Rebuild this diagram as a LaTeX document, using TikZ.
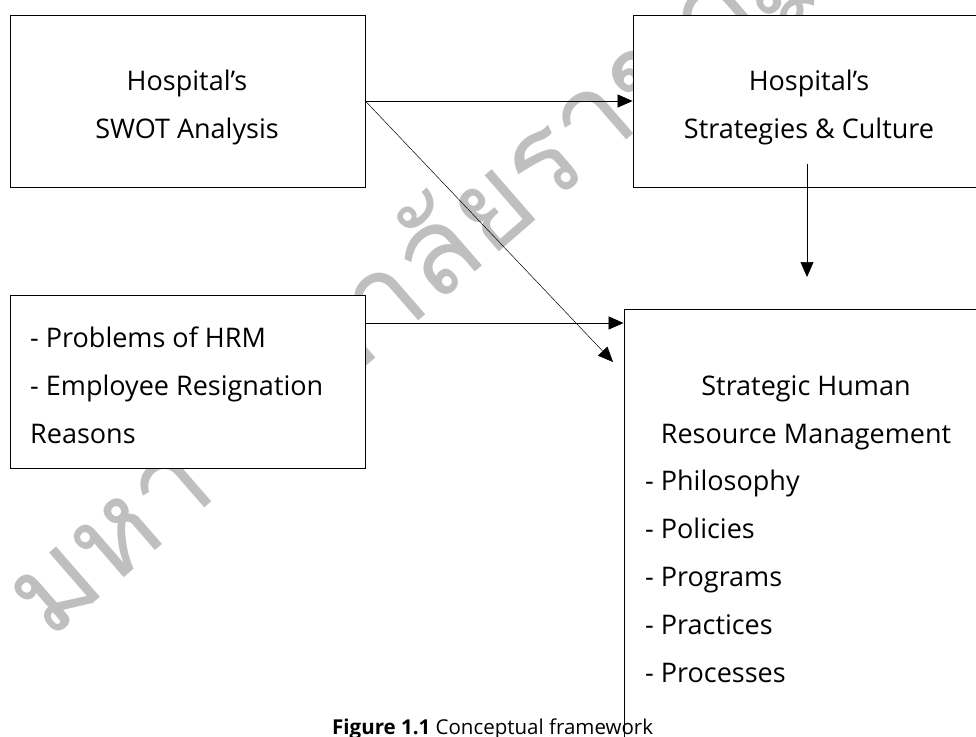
\documentclass[tikz,border=0pt]{standalone}
\usepackage{fontspec}
\setmainfont{Open Sans}
\newfontfamily\thaifont[Script=Thai]{Loma}
\usetikzlibrary{arrows.meta}

\begin{document}
\begin{tikzpicture}[x=1pt,y=-1pt,
		box/.style={draw,fill=white,line width=.8pt,minimum width=#1},
		txt/.style={inner sep=0pt,font=\fontsize{27}{48}\selectfont},
		arr/.style={line width=.7pt,-{Triangle[length=15pt,width=13pt]}}]
	\useasboundingbox (0,0) rectangle (976,736);
	\clip (0,0) rectangle (976,736);
	% watermark
	\node[rotate=41,anchor=mid west,text=black!25,inner sep=0pt,font=\thaifont\fontsize{120}{120}\selectfont] (wm) at (48,640) {มหาวิทยาลัยราชภัฏ};
	% boxes
	\node[box=355pt,minimum height=172pt] (swot) at (187.5,101) {};
	\node[box=352pt,minimum height=172pt] (strat) at (809,101) {};
	\node[box=355pt,minimum height=173pt] (prob) at (187.5,381.5) {};
	\node[box=366pt,minimum height=451pt] (shrm) at (807,534.5) {};
	% texts (base = last line)
	\node[txt,align=center,anchor=base] (swottxt) at (187,138) {Hospital’s\\SWOT Analysis};
	\node[txt,align=center,anchor=base] (strattxt) at (809,138) {Hospital’s\\Strategies \& Culture};
	\node[txt,align=left,anchor=base west] (probtxt) at (30,443) {- Problems of HRM\\- Employee Resignation\\Reasons};
	\node[txt,align=center,anchor=base] (shrmhead) at (806,443) {Strategic Human\\Resource Management};
	\node[txt,align=left,anchor=base west] (shrmlist) at (645,682) {- Philosophy\\- Policies\\- Programs\\- Practices\\- Processes};
	% arrows
	\coordinate (dtip) at (613,362);
	\coordinate (dtop) at (807,164);
	\coordinate (dend) at (807,277);
	\coordinate (pout) at (365,323);
	\draw[arr] (swot.east) -- (strat.west);
	\draw[arr,line width=.5pt] (swot.east) -- (dtip);
	\draw[arr] (dtop) -- (dend);
	\draw[arr] (pout) -- (pout -| shrm.west);
	% caption
	\node[inner sep=0pt,font=\fontsize{20.5}{24}\selectfont,anchor=base west] (cap) at (332,734) {\textbf{Figure 1.1} Conceptual framework};
\end{tikzpicture}
\end{document}
